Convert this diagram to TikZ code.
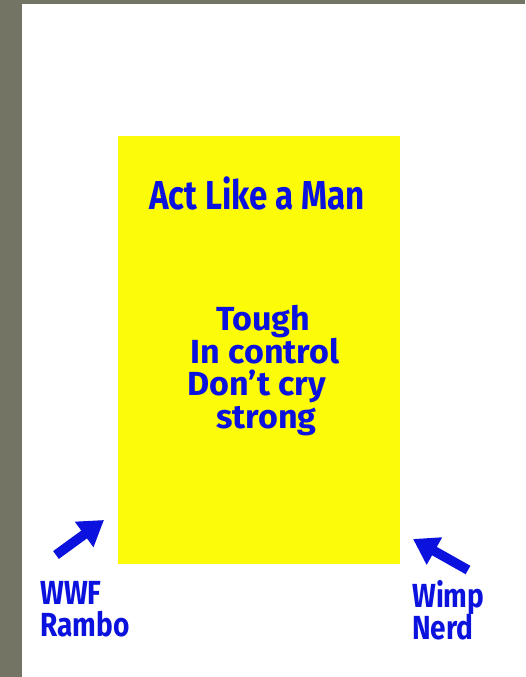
\documentclass[tikz,border=0pt]{standalone}
\usepackage{fontspec}
\setmainfont{Fira Sans}
\usetikzlibrary{arrows.meta}
\definecolor{frame}{RGB}{115,116,100}
\definecolor{note}{RGB}{252,252,8}
\definecolor{ink}{RGB}{12,18,222}
\newcommand{\packedlines}{\lineskiplimit=-100pt\relax\lineskip=0pt\relax}
\begin{document}
\begin{tikzpicture}[x=0.02cm,y=-0.02cm,line cap=butt,line join=miter,
  every node/.style={inner sep=0pt,text=ink,anchor=west},
  head/.style={font=\bfseries\fontsize{23}{23}\selectfont,xscale=0.82},
  say/.style={font={\bfseries\fontsize{19}{18.5}\selectfont\packedlines},
    xscale=1.02,align=left,anchor=north west},
  tag/.style={font={\bfseries\fontsize{19}{18.1}\selectfont\packedlines},
    xscale=0.84,align=left,anchor=north west},
  pointer/.style={draw=ink,line width=5.5pt,-{Triangle[length=14pt,width=17pt]}}]
  % frame and page
  \useasboundingbox (0,0) rectangle (525,677);
  \fill[frame] (0,0) rectangle (525,677);
  \fill[white] (22,4) rectangle (525,677);
  % the yellow note
  \fill[note] (118,136) rectangle (400,564);
  \node[head] (title) at (149,193) {Act Like a Man};
  \node[say] (traits) at (187,305) {\hspace*{16pt}Tough\\
    \hspace*{2pt}In control\\
    Don't cry\\
    \hspace*{16pt}strong};
  % labels below
  \node[tag] (strongmen) at (40,581) {WWF\\Rambo};
  \node[tag] (weaklings) at (412,580) {Wimp\\Nerd};
  \coordinate (lfoot) at (56,555);
  \coordinate (ltip) at (104,520);
  \coordinate (rfoot) at (468,570);
  \coordinate (rtip) at (413,539);
  \draw[pointer] (lfoot) -- (ltip);
  \draw[pointer] (rfoot) -- (rtip);
\end{tikzpicture}
\end{document}
